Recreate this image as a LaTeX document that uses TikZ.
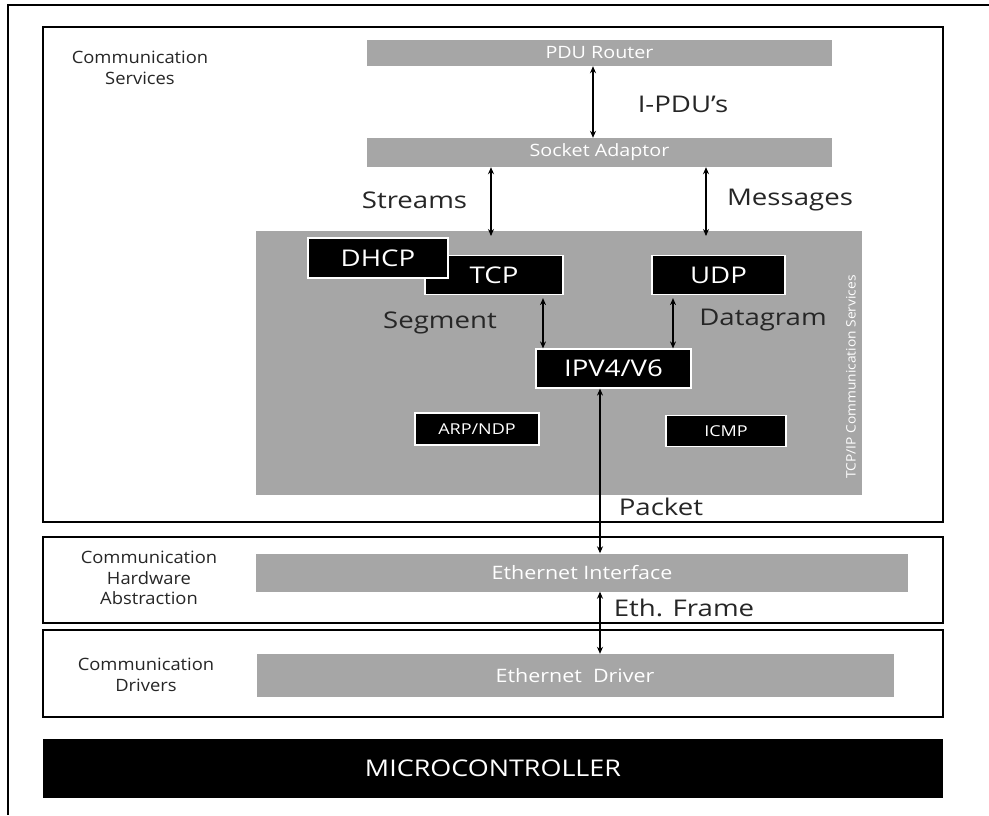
\documentclass[tikz,border=0pt]{standalone}
\usepackage{fontspec}
\usepackage{graphicx}
\setmainfont{Open Sans}
\usetikzlibrary{arrows.meta}
\definecolor{boxgray}{HTML}{A6A6A6}
\definecolor{labtxt}{HTML}{262626}
\newcommand\wbig[1]{\scalebox{1.2}[1]{#1}}
\newcommand\wmid[1]{\scalebox{1.16}[1]{#1}}
\newcommand\wside[1]{\scalebox{1.08}[1]{\begin{tabular}{@{}c@{}}#1\end{tabular}}}
\tikzset{
  layer/.style={draw=black, line width=1.3pt, fill=white},
  graybox/.style={fill=boxgray, draw=none, text=white, inner sep=0pt},
  blackbox/.style={fill=black, draw=white, line width=1.2pt, text=white, inner sep=0pt},
  arr/.style={line width=1.3pt, {Stealth[length=7pt,width=6pt]}-{Stealth[length=7pt,width=6pt]}},
  lab/.style={text=labtxt, inner sep=0pt, font=\fontsize{23}{25}\selectfont},
  side/.style={text=labtxt, inner sep=0pt, font=\fontsize{17}{20.5}\selectfont},
  bigtxt/.style={font=\fontsize{23}{25}\selectfont},
  midtxt/.style={font=\fontsize{18.5}{20}\selectfont},
  smalltxt/.style={font=\fontsize{15}{17}\selectfont},
}
\begin{document}
\begin{tikzpicture}[x=1pt, y=-1pt]
\useasboundingbox (0,0) rectangle (989,815);
% outer partial frame
\coordinate (otl) at (8,5);
\coordinate (otr) at (989,5);
\coordinate (obl) at (8,815);
\draw[line width=1.5pt] (otr) -- (otl) -- (obl);
% layer boxes
\node[layer, minimum width=900pt, minimum height=495pt] (cs) at (493,274.5) {};
\node[layer, minimum width=900pt, minimum height=86pt] (hw) at (493,580) {};
\node[layer, minimum width=900pt, minimum height=87pt] (dr) at (493,673.5) {};
\node[fill=black, inner sep=0pt, minimum width=900pt, minimum height=59pt, text=white,
      font=\fontsize{23}{25}\selectfont] (mc) at (493,768.5) {\scalebox{1.17}[1]{MICROCONTROLLER}};
% side labels
\node[side] (csl) at (140,70) {\wside{Communication\\Services}};
\node[side] (hwl) at (149,580) {\wside{Communication\\Hardware\\Abstraction}};
\node[side] (drl) at (146,677) {\wside{Communication\\Drivers}};
% gray modules
\node[graybox, minimum width=465pt, minimum height=26pt, font=\fontsize{17}{18}\selectfont] (pdu) at (599.5,53) {\wmid{PDU Router}};
\node[graybox, minimum width=465pt, minimum height=29pt, font=\fontsize{17}{18}\selectfont] (sock) at (599.5,152.5) {\wmid{Socket Adaptor}};
\node[graybox, minimum width=606pt, minimum height=264pt] (tcpip) at (559,362.5) {};
\node[graybox, rotate=90, font=\fontsize{13}{14}\selectfont] (tcpipl) at (851,377) {\scalebox{1.06}[1]{TCP/IP Communication Services}};
\node[graybox, minimum width=652pt, minimum height=38pt, midtxt] (eth) at (582,572.5) {\wmid{Ethernet Interface}};
\node[graybox, minimum width=637pt, minimum height=43pt, midtxt] (drv) at (575,675.5) {\wmid{Ethernet\ \ Driver}};
% black modules
\node[blackbox, minimum width=138pt, minimum height=39pt, bigtxt] (tcp) at (494,275) {\wbig{TCP}};
\node[blackbox, minimum width=140pt, minimum height=40pt, bigtxt] (dhcp) at (378,258) {\wbig{DHCP}};
\node[blackbox, minimum width=133pt, minimum height=39pt, bigtxt] (udp) at (718.5,275) {\wbig{UDP}};
\node[blackbox, minimum width=155pt, minimum height=39pt, bigtxt] (ipv) at (613.5,368.5) {\wbig{IPV4/V6}};
\node[blackbox, minimum width=124pt, minimum height=32pt, smalltxt] (arp) at (477,429) {\wbig{ARP/NDP}};
\node[blackbox, minimum width=120pt, minimum height=31pt, smalltxt] (icmp) at (726,431) {\wbig{ICMP}};
% connector end points inside TCP/IP box
\coordinate (strend) at (491,236);
\coordinate (msgend) at (706,236);
% connectors
\draw[arr] ([xshift=-6.5pt]pdu.south) -- ([xshift=-6.5pt]sock.north);
\draw[arr] (sock.south -| strend) -- (strend);
\draw[arr] (sock.south -| msgend) -- (msgend);
\draw[arr] ([xshift=49pt,yshift=-3pt]tcp.south) -- ([xshift=49pt]tcp.south |- ipv.north);
\draw[arr] ([xshift=-45.5pt,yshift=-3pt]udp.south) -- ([xshift=-45.5pt]udp.south |- ipv.north);
\draw[arr] ([xshift=-13.5pt]ipv.south) -- ([xshift=-13.5pt]ipv.south |- eth.north);
\draw[arr] ([xshift=18pt]eth.south) -- ([xshift=18pt]eth.south |- drv.north);
% connector labels
\node[lab] (ipdu) at (683,104) {\wbig{I-PDU’s}};
\node[lab] (strl) at (414.5,200) {\wbig{Streams}};
\node[lab] (msgl) at (790,200) {\wbig{Messages}};
\node[lab] (segl) at (440,323) {\wbig{Segment}};
\node[lab] (dgl) at (763,320) {\wbig{Datagram}};
\node[lab] (pktl) at (661,507) {\wbig{Packet}};
\node[lab] (efl) at (684,608) {\wbig{Eth. Frame}};
\end{tikzpicture}
\end{document}
